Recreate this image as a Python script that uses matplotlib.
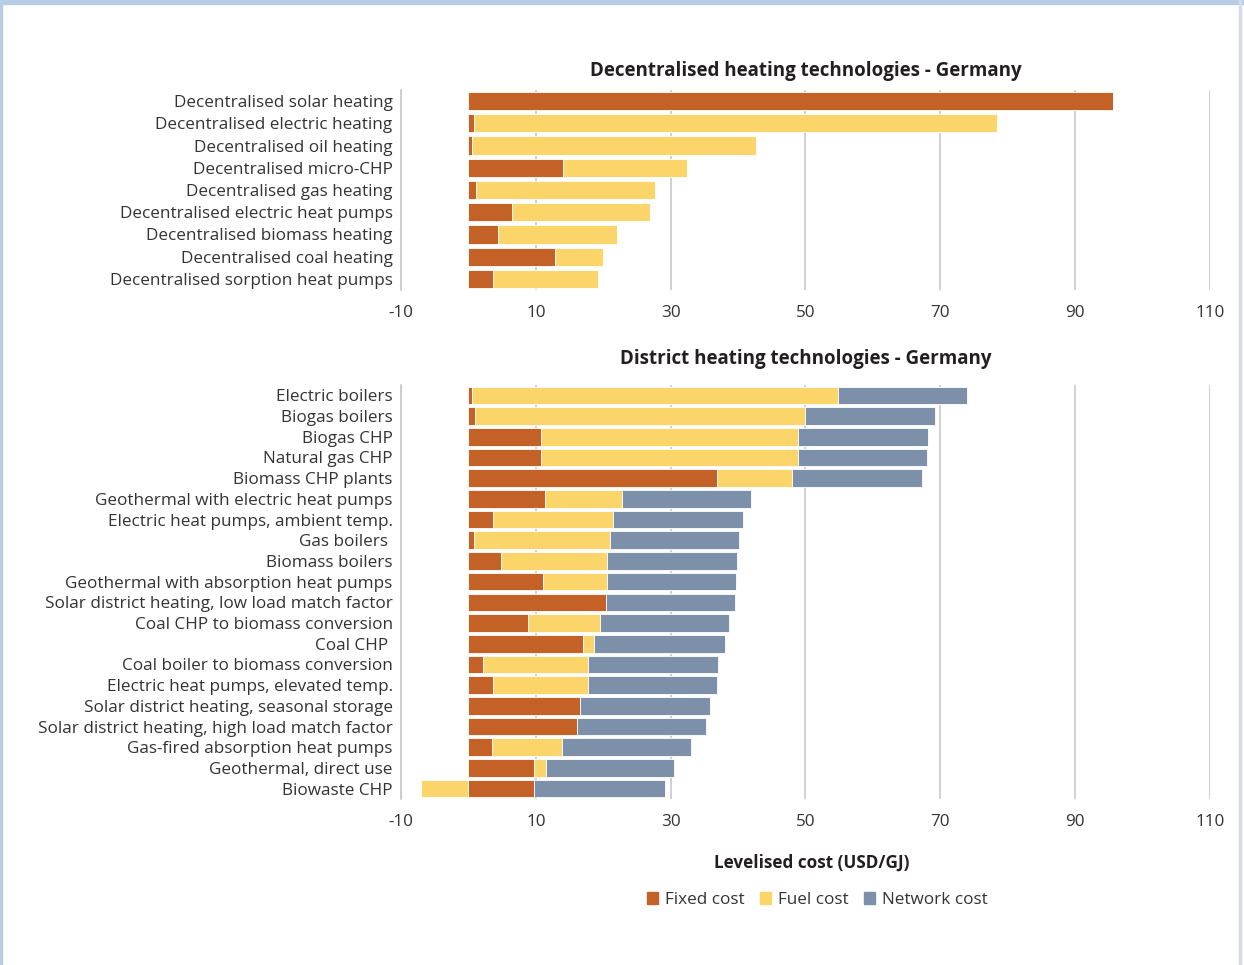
import numpy as np
import matplotlib
matplotlib.use('Agg')
import matplotlib.pyplot as plt
from matplotlib.patches import Rectangle, Patch

plt.rcParams['font.family'] = ['Open Sans', 'DejaVu Sans']

# decentralised heating, Germany (USD/GJ)
dec_labels = ['Decentralised solar heating', 'Decentralised electric heating',
              'Decentralised oil heating', 'Decentralised micro-CHP',
              'Decentralised gas heating', 'Decentralised electric heat pumps',
              'Decentralised biomass heating', 'Decentralised coal heating',
              'Decentralised sorption heat pumps']
dec_fixed = [95.6, 0.75, 0.6, 14.0, 1.15, 6.5, 4.4, 12.9, 3.6]
dec_fuel = [0.0, 77.7, 42.0, 18.4, 26.6, 20.5, 17.7, 7.1, 15.7]

# district heating, Germany (USD/GJ)
dh_labels = ['Electric boilers', 'Biogas boilers', 'Biogas CHP', 'Natural gas CHP',
             'Biomass CHP plants', 'Geothermal with electric heat pumps',
             'Electric heat pumps, ambient temp.', 'Gas boilers ', 'Biomass boilers',
             'Geothermal with absorption heat pumps',
             'Solar district heating, low load match factor',
             'Coal CHP to biomass conversion', 'Coal CHP ',
             'Coal boiler to biomass conversion', 'Electric heat pumps, elevated temp.',
             'Solar district heating, seasonal storage',
             'Solar district heating, high load match factor',
             'Gas-fired absorption heat pumps', 'Geothermal, direct use', 'Biowaste CHP']
dh_fixed = [0.6, 0.9, 10.7, 10.7, 36.9, 11.4, 3.6, 0.8, 4.9, 11.1,
            20.4, 8.8, 17.0, 2.1, 3.6, 16.6, 16.1, 3.5, 9.7, 9.8]
dh_fuel = [54.3, 49.1, 38.2, 38.2, 11.1, 11.4, 17.9, 20.2, 15.7, 9.5,
           0.0, 10.7, 1.7, 15.7, 14.1, 0.0, 0.0, 10.4, 1.8, -7.1]
dh_network = [19.1, 19.3, 19.3, 19.1, 19.3, 19.2, 19.2, 19.1, 19.3, 19.1,
              19.1, 19.2, 19.3, 19.3, 19.2, 19.3, 19.2, 19.1, 19.0, 19.3]

xticks = [-10, 10, 30, 50, 70, 90, 110]

c_fixed = '#C46127'
c_fuel = '#FBD56A'
c_net = '#7C91A9'
txt = '#333333'
grid_c = '#C8C8C8'
fs = 12.3

fig = plt.figure(figsize=(12.44, 9.65), dpi=100)
ax1 = fig.add_axes([0.3224, 0.6995, 0.6500, 0.2073])
ax2 = fig.add_axes([0.3224, 0.1720, 0.6500, 0.4290])


def style(ax, labels, title, tpad):
    n = len(labels)
    ax.set_xlim(-10, 110)
    ax.set_ylim(n - 0.5, -0.5)
    ax.set_xticks(xticks)
    ax.set_xticklabels([str(t) for t in xticks], fontsize=fs, color=txt)
    ax.set_yticks(np.arange(n))
    ax.set_yticklabels(labels, fontsize=fs, color=txt)
    ax.tick_params(length=0)
    ax.tick_params(axis='x', pad=11)
    ax.tick_params(axis='y', pad=6)
    for s in ['top', 'right', 'bottom']:
        ax.spines[s].set_visible(False)
    ax.spines['left'].set_color(grid_c)
    ax.spines['left'].set_linewidth(1.2)
    ax.xaxis.grid(True, color=grid_c, linewidth=1.2)
    ax.set_axisbelow(True)
    ax.set_title(title, fontsize=13.5, fontweight='bold', color='#231F20', pad=tpad)


# top panel
y1 = np.arange(len(dec_labels))
fx = np.array(dec_fixed)
fu = np.array(dec_fuel)
ax1.barh(y1, fx, height=0.82, color=c_fixed, edgecolor='white', linewidth=0.6)
ax1.barh(y1, fu, left=fx, height=0.82, color=c_fuel, edgecolor='white', linewidth=0.6)
style(ax1, dec_labels, 'Decentralised heating technologies - Germany', 10)

# bottom panel
y2 = np.arange(len(dh_labels))
fx2 = np.array(dh_fixed)
fu2 = np.array(dh_fuel)
nw2 = np.array(dh_network)
fuel_left = np.where(fu2 >= 0, fx2, 0)
net_left = fx2 + np.clip(fu2, 0, None)
ax2.barh(y2, fx2, height=0.85, color=c_fixed, edgecolor='white', linewidth=0.6)
ax2.barh(y2, fu2, left=fuel_left, height=0.85, color=c_fuel, edgecolor='white', linewidth=0.6)
ax2.barh(y2, nw2, left=net_left, height=0.85, color=c_net, edgecolor='white', linewidth=0.6)
style(ax2, dh_labels, 'District heating technologies - Germany', 15)

fig.text(812 / 1244, 1 - 863 / 965, 'Levelised cost (USD/GJ)', ha='center', va='center',
         fontsize=fs, fontweight='bold', color='#231F20')

handles = [Patch(color=c_fixed, label='Fixed cost'),
           Patch(color=c_fuel, label='Fuel cost'),
           Patch(color=c_net, label='Network cost')]
fig.legend(handles=handles, loc='center', bbox_to_anchor=(817 / 1244, 1 - 900 / 965),
           ncol=3, frameon=False, fontsize=fs, handlelength=0.65, handleheight=0.65,
           handletextpad=0.4, columnspacing=0.9, labelcolor=txt)

# frame around the figure
fig.add_artist(Rectangle((0, 1 - 4 / 965), 1, 4 / 965, transform=fig.transFigure,
                         color='#B8CCE4', zorder=5))
fig.add_artist(Rectangle((0, 0), 2 / 1244, 1, transform=fig.transFigure,
                         color='#B8CCE4', zorder=5))
fig.add_artist(Rectangle((1239 / 1244, 0), 1.5 / 1244, 1, transform=fig.transFigure,
                         color='#D3DCE8', zorder=5))

fig.savefig('out.png', dpi=100)
